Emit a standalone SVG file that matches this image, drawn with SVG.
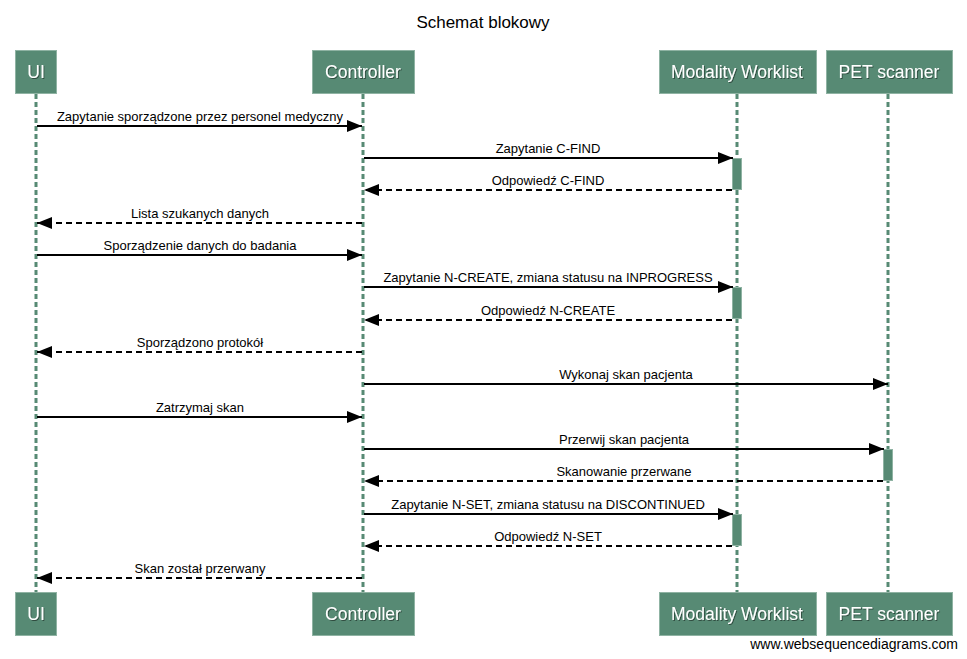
<svg xmlns="http://www.w3.org/2000/svg" width="967" height="659" viewBox="0 0 967 659">
<style>
.bg{fill:#ffffff}
.box{fill:#578a74;stroke:#8fb3a3;stroke-width:1}
.pl{font-family:"Liberation Sans",Arial,sans-serif;font-size:17.5px;fill:#ffffff;text-anchor:middle}
.life{stroke:#578a74;stroke-width:3;stroke-dasharray:5,3;fill:none}
.act{fill:#578a74;stroke:#8fb3a3;stroke-width:1}
.msg{stroke:#000;stroke-width:2;fill:none}
.ret{stroke:#000;stroke-width:2;fill:none;stroke-dasharray:6,4}
.ml{font-family:"Liberation Sans",Arial,sans-serif;font-size:13px;fill:#000;text-anchor:middle}
.title{font-family:"Liberation Sans",Arial,sans-serif;font-size:17px;fill:#000;text-anchor:middle}
.foot{font-family:"Liberation Sans",Arial,sans-serif;font-size:14px;fill:#000;text-anchor:end}
</style>
<defs>
<marker id="ah" markerWidth="16" markerHeight="12" refX="15" refY="6" orient="auto" markerUnits="userSpaceOnUse">
<path d="M0,0 L15,6 L0,12 Z" fill="#000"/>
</marker>
<filter id="ts" x="-10%" y="-20%" width="120%" height="140%">
<feDropShadow dx="1" dy="1" stdDeviation="0.6" flood-color="#000" flood-opacity="0.45"/>
</filter>
</defs>
<rect class="bg" x="0" y="0" width="967" height="659"/>
<text class="title" x="483" y="28">Schemat blokowy</text>
<g id="lifelines">
<line class="life" x1="36" y1="94" x2="36" y2="592"/>
<line class="life" x1="363" y1="94" x2="363" y2="592"/>
<line class="life" x1="737" y1="94" x2="737" y2="592"/>
<line class="life" x1="888" y1="94" x2="888" y2="592"/>
</g>
<g id="UI">
<rect class="box" x="15.5" y="50.5" width="41" height="43"/>
<text class="pl" x="36" y="78" filter="url(#ts)">UI</text>
<rect class="box" x="15.5" y="592.5" width="41" height="43"/>
<text class="pl" x="36" y="620" filter="url(#ts)">UI</text>
</g>
<g id="Controller">
<rect class="box" x="312.5" y="50.5" width="102" height="43"/>
<text class="pl" x="363" y="78" filter="url(#ts)">Controller</text>
<rect class="box" x="312.5" y="592.5" width="102" height="43"/>
<text class="pl" x="363" y="620" filter="url(#ts)">Controller</text>
</g>
<g id="ModalityWorklist">
<rect class="box" x="659.5" y="50.5" width="157" height="43"/>
<text class="pl" x="737" y="78" filter="url(#ts)">Modality Worklist</text>
<rect class="box" x="659.5" y="592.5" width="157" height="43"/>
<text class="pl" x="737" y="620" filter="url(#ts)">Modality Worklist</text>
</g>
<g id="PETscanner">
<rect class="box" x="826.5" y="50.5" width="126" height="43"/>
<text class="pl" x="889" y="78" filter="url(#ts)">PET scanner</text>
<rect class="box" x="826.5" y="592.5" width="126" height="43"/>
<text class="pl" x="889" y="620" filter="url(#ts)">PET scanner</text>
</g>
<g id="activations">
<rect class="act" x="732.5" y="158.5" width="9" height="31"/>
<rect class="act" x="732.5" y="287.5" width="9" height="31"/>
<rect class="act" x="883.5" y="449.5" width="9" height="31"/>
<rect class="act" x="732.5" y="514.5" width="9" height="31"/>
</g>
<g id="connectors">
<line class="msg" x1="37" y1="126" x2="362" y2="126" marker-end="url(#ah)"/>
<text class="ml" x="200" y="121">Zapytanie sporządzone przez personel medyczny</text>
<line class="msg" x1="364" y1="158" x2="733" y2="158" marker-end="url(#ah)"/>
<text class="ml" x="548" y="153">Zapytanie C-FIND</text>
<line class="ret" x1="732" y1="190" x2="364" y2="190" marker-end="url(#ah)"/>
<text class="ml" x="548" y="185">Odpowiedź C-FIND</text>
<line class="ret" x1="362" y1="223" x2="37" y2="223" marker-end="url(#ah)"/>
<text class="ml" x="200" y="218">Lista szukanych danych</text>
<line class="msg" x1="37" y1="255" x2="362" y2="255" marker-end="url(#ah)"/>
<text class="ml" x="200" y="250">Sporządzenie danych do badania</text>
<line class="msg" x1="364" y1="287" x2="733" y2="287" marker-end="url(#ah)"/>
<text class="ml" x="548" y="282">Zapytanie N-CREATE, zmiana statusu na INPROGRESS</text>
<line class="ret" x1="732" y1="320" x2="364" y2="320" marker-end="url(#ah)"/>
<text class="ml" x="548" y="315">Odpowiedź N-CREATE</text>
<line class="ret" x1="362" y1="352" x2="37" y2="352" marker-end="url(#ah)"/>
<text class="ml" x="200" y="347">Sporządzono protokół</text>
<line class="msg" x1="364" y1="384" x2="888" y2="384" marker-end="url(#ah)"/>
<text class="ml" x="626" y="379">Wykonaj skan pacjenta</text>
<line class="msg" x1="37" y1="417" x2="362" y2="417" marker-end="url(#ah)"/>
<text class="ml" x="200" y="412">Zatrzymaj skan</text>
<line class="msg" x1="364" y1="449" x2="884" y2="449" marker-end="url(#ah)"/>
<text class="ml" x="624" y="444">Przerwij skan pacjenta</text>
<line class="ret" x1="883" y1="481" x2="364" y2="481" marker-end="url(#ah)"/>
<text class="ml" x="624" y="476">Skanowanie przerwane</text>
<line class="msg" x1="364" y1="514" x2="733" y2="514" marker-end="url(#ah)"/>
<text class="ml" x="548" y="509">Zapytanie N-SET, zmiana statusu na DISCONTINUED</text>
<line class="ret" x1="732" y1="546" x2="364" y2="546" marker-end="url(#ah)"/>
<text class="ml" x="548" y="541">Odpowiedź N-SET</text>
<line class="ret" x1="362" y1="578" x2="37" y2="578" marker-end="url(#ah)"/>
<text class="ml" x="200" y="573">Skan został przerwany</text>
</g>
<text class="foot" x="958" y="649">www.websequencediagrams.com</text>
</svg>
